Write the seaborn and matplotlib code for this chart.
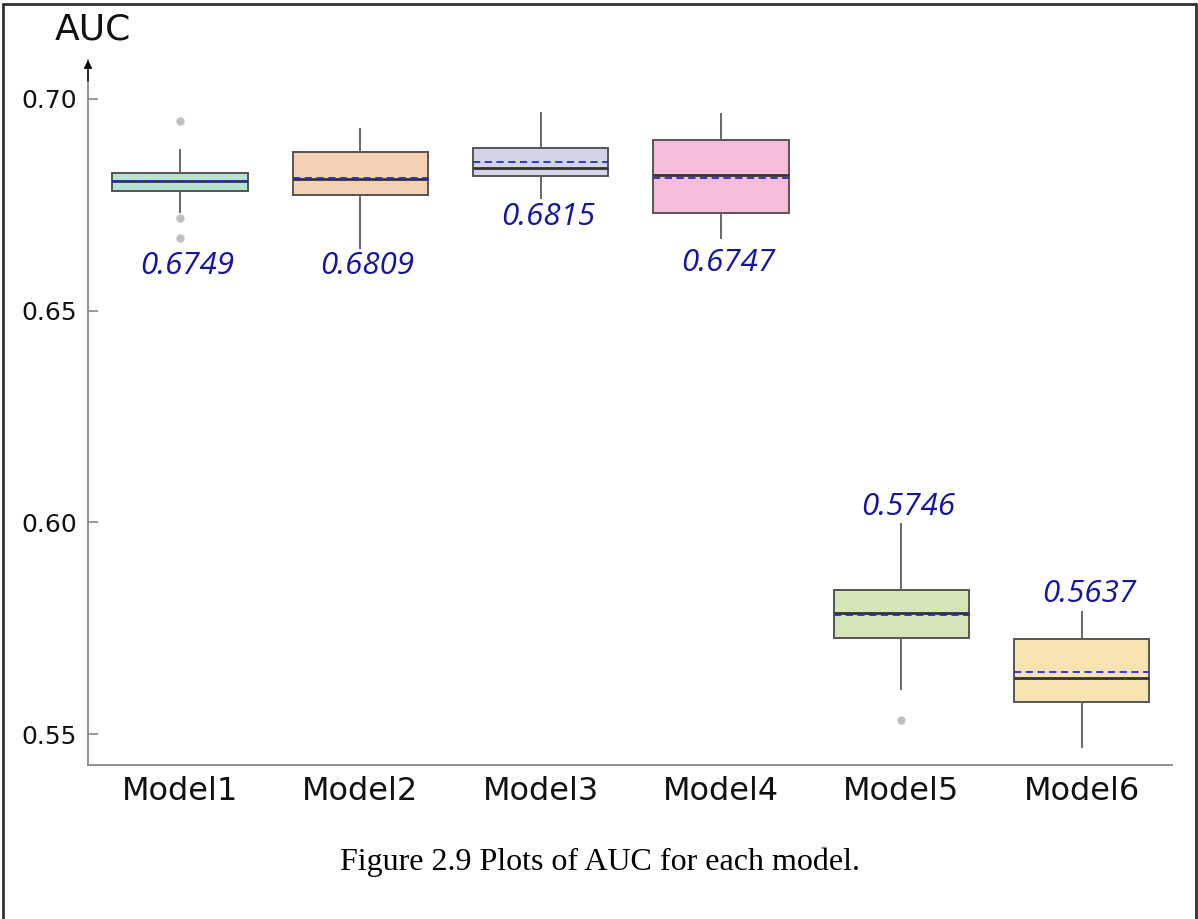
import numpy as np
import pandas as pd
import matplotlib
matplotlib.use("Agg")
import matplotlib.pyplot as plt
from matplotlib.lines import Line2D
import seaborn as sns

# ---- data -------------------------------------------------------------
models = ["Model1", "Model2", "Model3", "Model4", "Model5", "Model6"]

auc_model1 = [0.6672, 0.6718, 0.6730, 0.6783, 0.6805, 0.6806, 0.6806,
              0.6818, 0.6823, 0.6824, 0.6863, 0.6881, 0.6949]
auc_model2 = [0.6645, 0.6740, 0.6774, 0.6800, 0.6811, 0.6850, 0.6875, 0.6900, 0.6931]
auc_model3 = [0.6764, 0.6805, 0.6817, 0.6830, 0.6837, 0.6866, 0.6884, 0.6895, 0.6970]
auc_model4 = [0.6669, 0.6700, 0.6731, 0.6770, 0.6821, 0.6840, 0.6902, 0.6925, 0.6968]
auc_model5 = [0.5534, 0.5603, 0.5728, 0.5760, 0.5787, 0.5815, 0.5840, 0.5964, 0.5998]
auc_model6 = [0.5468, 0.5530, 0.5575, 0.5610, 0.5633, 0.5713, 0.5725, 0.5770, 0.5790]

test_auc = ["0.6749", "0.6809", "0.6815", "0.6747", "0.5746", "0.5637"]
y_ticks = [0.55, 0.60, 0.65, 0.70]

# ---- layout / style ---------------------------------------------------
label_y = [0.6606, 0.6606, 0.6722, 0.6613, 0.6036, 0.5831]
box_colors = ["#b5e2d4", "#f3d0b3", "#d3d3e9", "#f4bddc", "#d4e5b9", "#f7e3b2"]

samples = [auc_model1, auc_model2, auc_model3, auc_model4, auc_model5, auc_model6]
df = pd.DataFrame({
    "model": np.concatenate([[m] * len(s) for m, s in zip(models, samples)]),
    "auc": np.concatenate(samples),
})

sns.set_theme(style="white")
plt.rcParams["font.family"] = ["DejaVu Sans"]

fig = plt.figure(figsize=(11.98, 9.19), dpi=100)
ax = fig.add_axes([88 / 1198, 1 - 765 / 919, (1172 - 88) / 1198, (765 - 60) / 919])

sns.boxplot(
    data=df, x="model", y="auc", hue="model", order=models, hue_order=models,
    palette=box_colors, saturation=1, legend=False, width=0.75, ax=ax,
    showcaps=False, showmeans=True, meanline=True,
    linecolor="#555555", linewidth=1.4,
    boxprops=dict(edgecolor="#555555", linewidth=1.4),
    whiskerprops=dict(color="#666666", linewidth=1.4),
    medianprops=dict(color="#333333", linewidth=2.0),
    meanprops=dict(color="#2828e0", linestyle=(0, (4, 2.5)), linewidth=1.3),
    flierprops=dict(marker="o", markersize=5, markerfacecolor="#c0c0c0",
                    markeredgecolor="#c0c0c0"),
)

ax.set_xlim(-0.51, 5.5)
ax.set_ylim(0.5427, 0.7092)
ax.set_yticks(y_ticks)
ax.set_yticklabels([f"{t:.2f}" for t in y_ticks])
ax.set_xlabel("")
ax.set_ylabel("")

for side in ("top", "right"):
    ax.spines[side].set_visible(False)
for side in ("left", "bottom"):
    ax.spines[side].set_color("#888888")
    ax.spines[side].set_linewidth(1.3)

ax.tick_params(axis="y", direction="in", length=7, width=1.2, color="#888888",
               labelsize=18, pad=8, left=True)
ax.tick_params(axis="x", length=0, labelsize=23, pad=8)
for t in ax.get_yticklabels() + ax.get_xticklabels():
    t.set_color("#111111")

# arrow head on the value axis
ax.annotate("", xy=(0, 1.0), xytext=(0, 0.97), xycoords="axes fraction",
            arrowprops=dict(arrowstyle="-|>", color="black", lw=1.0,
                            mutation_scale=12, shrinkA=0, shrinkB=0))

# test-set AUC annotations
for i, (txt, yy) in enumerate(zip(test_auc, label_y)):
    ax.text(i + 0.04, yy, txt, ha="center", va="center", fontsize=22.5,
            style="italic", color="#1515a0", family=["Open Sans", "DejaVu Sans"])

fig.text(93 / 1198, 1 - 30 / 919, "AUC", ha="center", va="center",
         fontsize=26, color="#111111")

fig.text(600 / 1198, 1 - 862 / 919, "Figure 2.9 Plots of AUC for each model.",
         ha="center", va="center", fontsize=23, color="black",
         family=["Liberation Serif"])

# page frame
for xs, ys in [((3, 3), (4, 919)), ((3, 1196), (4, 4)), ((1196, 1196), (4, 919))]:
    fig.add_artist(Line2D([x / 1198 for x in xs], [1 - y / 919 for y in ys],
                          color="#333333", lw=2.0))

fig.savefig("out.png", dpi=100, facecolor="white")
